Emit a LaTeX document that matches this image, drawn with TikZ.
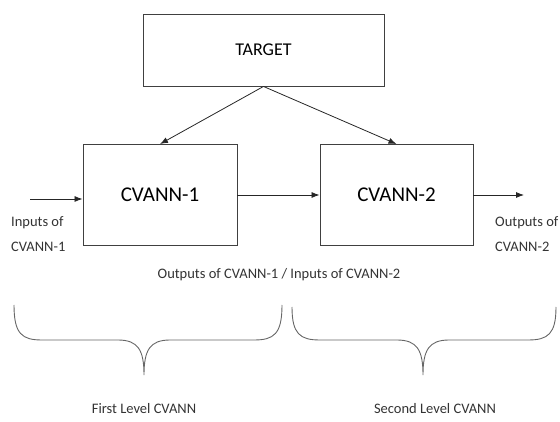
\documentclass[tikz,border=0pt]{standalone}
\usepackage{fontspec}
\setmainfont{Carlito}
\usetikzlibrary{positioning}
\usetikzlibrary{arrows.meta}

\begin{document}
\begin{tikzpicture}[x=1pt, y=-1pt,
    block/.style={draw=black!75, line width=0.9pt, inner sep=0pt},
    link/.style={draw=black!85, line width=0.8pt, arrows={-Latex[length=8pt, width=6pt]}},
    note/.style={font=\fontsize{14.5}{25}\selectfont, align=left, inner sep=0pt, text=black!80}]

    \useasboundingbox (0,0) rectangle (560,422);

    \newcommand{\drawLevelBrace}[4]{
      % #1 = left end (x axis)
      % #2 = tip (x axis)
      % #3 = right end (x axis)
      % #4 = top of the ends (y axis)
      \draw[black!60, line width=0.9pt]
        (#1, #4) .. controls (#1, 334) and (#1+8, 340) .. (#1+28, 340)
        -- (#2-26, 340) .. controls (#2-6, 340) and (#2, 350) .. (#2, 375)
        .. controls (#2, 350) and (#2+6, 340) .. (#2+26, 340)
        -- (#3-28, 340) .. controls (#3-8, 340) and (#3, 334) .. (#3, #4);
    }

    \node[block, minimum width=241pt, minimum height=72pt,
      font=\fontsize{18}{20}\selectfont] (target) at (263.5, 50) {TARGET};
    \node[block, minimum width=154pt, minimum height=101pt,
      font=\fontsize{21}{24}\selectfont] (cvann1) at (160, 195) {CVANN-1};
    \node[block, minimum width=153pt, minimum height=101pt,
      font=\fontsize{21}{24}\selectfont] (cvann2) at (396.5, 195) {CVANN-2};

    \coordinate (inStart) at (30, 199);
    \coordinate (outEnd) at (524, 195);

    \draw[link] (target.south) -- (cvann1.north);
    \draw[link] (target.south) -- (cvann2.north);
    \draw[link] (inStart) -- (cvann1.west |- inStart);
    \draw[link] (cvann1) -- (cvann2);
    \draw[link] (cvann2) -- (outEnd);

    \node[note, anchor=west] (inLabel) at (11, 234) {Inputs of\\CVANN-1};
    \node[note, anchor=west] (outLabel) at (495, 234) {Outputs of\\CVANN-2};
    \node[note] (midLabel) at (279, 275) {Outputs of CVANN-1 / Inputs of CVANN-2};

    \drawLevelBrace{14}{144}{282}{305}
    \drawLevelBrace{292}{423}{556}{307}

    \node[note] (firstLabel) at (144, 409) {First Level CVANN};
    \node[note] (secondLabel) at (435, 409) {Second Level CVANN};

\end{tikzpicture}
\end{document}
